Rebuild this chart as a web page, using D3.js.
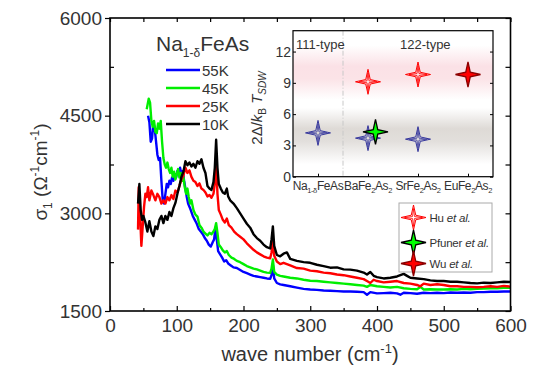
<!DOCTYPE html>
<html>
<head>
<meta charset="utf-8">
<script src="https://cdnjs.cloudflare.com/ajax/libs/d3/7.8.5/d3.min.js"></script>
<style>
  body { margin: 0; background: #fff; }
  svg { font-family: "Liberation Sans", Arial, sans-serif; }
</style>
</head>
<body>
<svg id="chart" width="540" height="369"></svg>
<script>
// optical conductivity, [wave number, sigma1]
const s55K = [[57,4500],[59,4400],[61,4100],[63,4150],[65,4400],[67,4300],[69,4100],[71,3900],[73,3820],[75,3850],[77,3500],[79,3200],[81,3150],[83,3300],[85,3450],[87,3400],[89,3500],[91,3450],[93,3550],[95,3500],[97,3600],[99,3550],[101,3650],[103,3620],[105,3700],[107,3600],[109,3650],[111,3500],[113,3380],[115,3250],[117,3150],[119,3100],[121,3050],[124,2960],[127,2900],[130,2840],[133,2760],[136,2720],[139,2680],[142,2620],[145,2580],[148,2520],[151,2490],[154,2560],[156,2600],[158,2780],[160,2600],[162,2420],[165,2370],[168,2320],[171,2260],[174,2280],[177,2230],[181,2200],[185,2170],[190,2160],[195,2130],[200,2100],[205,2080],[210,2060],[215,2040],[220,2030],[225,2020],[230,2010],[235,2000],[240,1995],[242,2050],[244,2210],[246,2000],[250,1930],[255,1910],[260,1900],[270,1880],[280,1860],[290,1840],[300,1830],[310,1825],[320,1815],[330,1810],[340,1805],[350,1800],[360,1800],[370,1795],[380,1790],[385,1750],[390,1790],[400,1770],[410,1775],[420,1780],[430,1770],[435,1750],[440,1780],[450,1775],[460,1765],[470,1780],[480,1775],[490,1780],[500,1775],[510,1785],[520,1780],[530,1785],[540,1780],[550,1790],[560,1790],[570,1795],[580,1795],[590,1800],[600,1800]];

const s45K = [[55,4600],[58,4760],[60,4700],[62,4420],[64,4330],[66,4420],[68,4250],[70,4230],[72,4380],[74,4300],[76,4420],[78,4100],[80,3850],[82,3750],[84,3700],[86,3780],[88,3680],[90,3620],[92,3700],[94,3560],[96,3640],[98,3520],[100,3600],[102,3680],[104,3550],[106,3620],[108,3500],[110,3560],[112,3400],[114,3300],[116,3380],[118,3250],[120,3150],[122,3200],[125,3050],[128,2980],[131,2950],[134,2820],[137,2780],[140,2720],[143,2690],[146,2660],[149,2700],[152,2680],[155,2720],[157,2760],[159,2850],[161,2700],[163,2520],[166,2480],[169,2430],[172,2400],[175,2420],[178,2360],[182,2320],[186,2300],[190,2270],[195,2250],[200,2220],[205,2190],[210,2170],[215,2150],[220,2140],[225,2120],[230,2100],[235,2090],[240,2085],[242,2150],[244,2290],[246,2100],[250,2060],[255,2040],[260,2030],[270,2010],[280,2000],[290,1980],[300,1965],[310,1960],[320,1950],[330,1940],[340,1930],[350,1920],[360,1910],[370,1900],[380,1890],[385,1870],[390,1900],[400,1880],[410,1870],[420,1860],[430,1870],[440,1850],[450,1840],[460,1835],[465,1870],[470,1830],[480,1835],[490,1830],[500,1830],[510,1835],[520,1830],[530,1840],[540,1835],[550,1840],[560,1845],[570,1850],[580,1850],[590,1855],[600,1855]];

const s25K = [[42,2750],[43,3400],[45,3000],[47,2500],[49,2800],[51,3100],[53,3300],[55,3250],[57,3400],[59,3200],[62,3350],[65,3280],[68,3200],[71,3300],[74,3250],[77,3150],[80,3200],[83,3150],[86,3250],[89,3200],[92,3280],[95,3220],[98,3350],[101,3320],[104,3420],[107,3520],[110,3580],[113,3700],[116,3620],[119,3660],[122,3560],[125,3500],[128,3480],[131,3420],[134,3460],[137,3380],[140,3360],[143,3320],[146,3260],[149,3280],[152,3240],[155,3300],[157,3450],[159,3800],[161,3300],[163,3050],[166,2980],[169,2900],[172,2860],[175,2920],[178,2820],[182,2780],[186,2720],[190,2680],[195,2640],[200,2600],[205,2540],[210,2490],[215,2440],[220,2400],[225,2370],[230,2340],[235,2320],[240,2310],[242,2400],[244,2560],[246,2350],[250,2260],[255,2220],[260,2240],[270,2200],[280,2160],[290,2150],[300,2120],[310,2110],[320,2090],[330,2080],[340,2060],[350,2050],[360,2030],[370,2010],[380,1990],[385,1960],[390,1930],[395,1980],[400,1960],[410,1940],[420,1950],[430,1960],[440,1930],[450,1920],[460,1900],[465,1880],[470,1920],[480,1900],[490,1910],[500,1900],[510,1880],[520,1880],[530,1870],[540,1870],[550,1865],[560,1870],[570,1880],[580,1870],[590,1885],[600,1875]];

const s10K = [[42,3150],[44,3450],[46,3050],[48,2900],[50,2960],[53,2860],[56,2720],[59,2880],[62,2720],[65,2650],[68,2800],[71,2760],[74,2900],[77,2960],[80,2850],[83,2960],[86,2900],[89,3020],[92,2960],[95,3080],[98,3160],[101,3300],[104,3420],[107,3560],[110,3640],[113,3800],[116,3740],[119,3780],[122,3720],[125,3760],[128,3700],[131,3800],[134,3760],[137,3830],[140,3700],[143,3620],[146,3420],[149,3380],[152,3360],[155,3480],[157,3700],[159,4130],[161,3700],[163,3450],[166,3380],[169,3320],[172,3300],[175,3380],[177,3260],[180,3200],[185,3150],[190,3080],[195,3000],[200,2920],[205,2840],[210,2780],[215,2680],[220,2620],[225,2580],[230,2520],[235,2480],[240,2460],[242,2600],[244,2800],[246,2500],[250,2360],[255,2340],[260,2380],[265,2400],[270,2300],[280,2270],[290,2250],[300,2240],[310,2210],[320,2190],[330,2165],[340,2170],[350,2140],[360,2135],[370,2120],[380,2090],[385,2060],[390,2100],[395,2040],[400,2020],[410,2000],[420,2010],[430,2030],[440,2070],[445,2040],[450,2010],[460,2000],[470,1990],[480,1970],[490,1960],[500,1960],[510,1950],[520,1950],[530,1940],[540,1930],[550,1925],[560,1935],[570,1930],[580,1940],[590,1950],[600,1945]];

const seriesNames = ["55K", "45K", "25K", "10K"];
const seriesColors = ["#0000ff", "#00ee00", "#ff0000", "#000000"];
const seriesData = [s55K, s45K, s25K, s10K];

const xMajor = [0, 100, 200, 300, 400, 500, 600];
const xMinor = [50, 150, 250, 350, 450, 550];
const yMajor = [1500, 3000, 4500, 6000];
const yMinor = [2250, 3750, 5250];

// inset: 2Δ/kB T_SDW, [category position, ratio]
const compounds = [["Na", "1-δ", "FeAs", ""], ["BaFe", "2", "As", "2"], ["SrFe", "2", "As", "2"], ["EuFe", "2", "As", "2"]];
const huHigh = [[2, 9.1], [3, 9.8]];
const huLow = [[1, 4.2], [2, 3.7], [3, 3.6]];
const pfuner = [[2.15, 4.3]];
const wu = [[4, 9.8]];
const insetTicks = [0, 3, 6, 9, 12];

const svg = d3.select("#chart");

const x = d3.scaleLinear().domain([0, 600]).range([110, 510.5]);
const y = d3.scaleLinear().domain([1500, 6000]).range([311, 18]);

svg.append("defs").append("clipPath").attr("id", "plotclip")
  .append("rect").attr("x", 110).attr("y", 18).attr("width", 400.5).attr("height", 293);

// curves
const line = d3.line().x(d => x(d[0])).y(d => y(d[1]));
svg.append("g").attr("clip-path", "url(#plotclip)")
  .selectAll("path")
  .data(seriesData)
  .join("path")
  .attr("d", line)
  .attr("fill", "none")
  .attr("stroke", (d, i) => seriesColors[i])
  .attr("stroke-width", 2.4)
  .attr("stroke-linejoin", "round");

// axes
const tidy = g => { g.select(".domain").remove(); g.selectAll("line").attr("stroke", "#000").attr("stroke-width", 1.2); };
svg.append("g").attr("transform", "translate(0,311)")
  .call(d3.axisBottom(x).tickValues(xMajor).tickSize(-5).tickPadding(8).tickFormat(d3.format("d")))
  .call(tidy)
  .call(g => g.selectAll("text").attr("font-size", 19).attr("fill", "#333").attr("font-family", "Liberation Sans, Arial"));
svg.append("g").attr("transform", "translate(0,311)")
  .call(d3.axisBottom(x).tickValues(xMinor).tickSize(-3).tickFormat(""))
  .call(tidy);
svg.append("g").attr("transform", "translate(0,18)")
  .call(d3.axisTop(x).tickValues(xMajor.concat(xMinor)).tickSize(-4).tickFormat(""))
  .call(tidy);
svg.append("g").attr("transform", "translate(110,0)")
  .call(d3.axisLeft(y).tickValues(yMajor).tickSize(5).tickPadding(3).tickFormat(d3.format("d")))
  .call(tidy)
  .call(g => g.selectAll("text").attr("font-size", 19).attr("fill", "#333").attr("font-family", "Liberation Sans, Arial"));
svg.append("g").attr("transform", "translate(110,0)")
  .call(d3.axisLeft(y).tickValues(yMinor).tickSize(-4).tickFormat(""))
  .call(tidy);
svg.append("g").attr("transform", "translate(510.5,0)")
  .call(d3.axisRight(y).tickValues(yMajor.concat(yMinor)).tickSize(-5).tickFormat(""))
  .call(tidy);

svg.append("rect").attr("x", 110).attr("y", 18).attr("width", 400.5).attr("height", 293)
  .attr("fill", "none").attr("stroke", "#000").attr("stroke-width", 1.6);

// axis titles
const xt = svg.append("text").attr("x", 310).attr("y", 361).attr("text-anchor", "middle")
  .attr("font-size", 20).attr("fill", "#333");
xt.append("tspan").text("wave number (cm");
xt.append("tspan").attr("dy", -8).attr("font-size", 13).text("-1");
xt.append("tspan").attr("dy", 8).text(")");

const yt = svg.append("text").attr("transform", "translate(47,172) rotate(-90)").attr("text-anchor", "middle")
  .attr("font-size", 19).attr("fill", "#333");
yt.append("tspan").text("σ");
yt.append("tspan").attr("dy", 5).attr("font-size", 12).text("1");
yt.append("tspan").attr("dy", -5).text(" (Ω");
yt.append("tspan").attr("dy", -8).attr("font-size", 12).text("-1");
yt.append("tspan").attr("dy", 8).text("cm");
yt.append("tspan").attr("dy", -8).attr("font-size", 12).text("-1");
yt.append("tspan").attr("dy", 8).text(")");

// main legend
const lt = svg.append("text").attr("x", 156).attr("y", 51).attr("font-size", 21).attr("fill", "#333");
lt.append("tspan").text("Na");
lt.append("tspan").attr("dy", 6).attr("font-size", 12).text("1-δ");
lt.append("tspan").attr("dy", -6).text("FeAs");

const leg = svg.append("g").selectAll("g").data(seriesNames).join("g")
  .attr("transform", (d, i) => `translate(166,${70 + i * 18})`);
leg.append("line").attr("x1", 0).attr("x2", 34).attr("stroke", (d, i) => seriesColors[i]).attr("stroke-width", 2.4);
leg.append("text").attr("x", 36).attr("y", 5.5).attr("font-size", 15).attr("fill", "#333").text(d => d);

// ---------- inset ----------
const ix = d3.scaleLinear().domain([0.5, 4.5]).range([293, 493]);
const iy = d3.scaleLinear().domain([0, 14]).range([176.7, 30.7]);

const grad = svg.select("defs").append("linearGradient").attr("id", "bands")
  .attr("gradientUnits", "userSpaceOnUse").attr("x1", 0).attr("x2", 0)
  .attr("y1", iy(14)).attr("y2", iy(0));
const bandStops = [[14, "#ffffff"], [12.6, "#ffffff"], [10.6, "#fbe1e6"], [9.4, "#fbe3e7"], [7.4, "#ffffff"], [6.6, "#ffffff"], [4.6, "#dedad6"], [3.4, "#e2dfdc"], [1.2, "#ffffff"], [0, "#ffffff"]];
grad.selectAll("stop").data(bandStops).join("stop")
  .attr("offset", d => (iy(d[0]) - iy(14)) / (iy(0) - iy(14)))
  .attr("stop-color", d => d[1]);

svg.append("rect").attr("x", ix(0.5)).attr("y", iy(14)).attr("width", ix(4.5) - ix(0.5)).attr("height", iy(0) - iy(14))
  .attr("fill", "url(#bands)");

svg.append("line").attr("x1", ix(1.5)).attr("x2", ix(1.5)).attr("y1", iy(14)).attr("y2", iy(0))
  .attr("stroke", "#c8c8c8").attr("stroke-width", 1).attr("stroke-dasharray", "5,2,1,2");

const itidy = g => { g.select(".domain").remove(); g.selectAll("line").attr("stroke", "#000"); };
svg.append("g").attr("transform", `translate(${ix(0.5)},0)`)
  .call(d3.axisLeft(iy).tickValues(insetTicks).tickSize(-3).tickPadding(2))
  .call(itidy)
  .call(g => g.selectAll("text").attr("font-size", 14).attr("fill", "#333").attr("font-family", "Liberation Sans, Arial"));
svg.append("g").attr("transform", `translate(${ix(4.5)},0)`)
  .call(d3.axisRight(iy).tickValues(insetTicks).tickSize(-3).tickFormat(""))
  .call(itidy);
svg.append("g").attr("transform", `translate(0,${iy(0)})`)
  .call(d3.axisBottom(ix).tickValues([1, 2, 3, 4]).tickSize(-3).tickFormat(""))
  .call(itidy);

svg.append("rect").attr("x", ix(0.5)).attr("y", iy(14)).attr("width", ix(4.5) - ix(0.5)).attr("height", iy(0) - iy(14))
  .attr("fill", "none").attr("stroke", "#000").attr("stroke-width", 1.2);

// compound labels
const cl = svg.append("g").selectAll("text").data(compounds).join("text")
  .attr("x", (d, i) => ix(i + 1)).attr("y", 190).attr("text-anchor", "middle")
  .attr("font-size", 12).attr("letter-spacing", -0.4).attr("fill", "#333");
cl.append("tspan").text(d => d[0]);
cl.append("tspan").attr("dy", 3).attr("font-size", 7.5).text(d => d[1]);
cl.append("tspan").attr("dy", -3).text(d => d[2]);
cl.append("tspan").attr("dy", 3).attr("font-size", 7.5).text(d => d[3]);

svg.append("text").attr("x", 296).attr("y", 49).attr("font-size", 13).attr("fill", "#333").text("111-type");
svg.append("text").attr("x", 400).attr("y", 49).attr("font-size", 13).attr("fill", "#333").text("122-type");

const it = svg.append("text").attr("transform", "translate(262,108) rotate(-90)").attr("text-anchor", "middle")
  .attr("font-size", 15).attr("fill", "#333");
it.append("tspan").text("2Δ/");
it.append("tspan").attr("font-style", "italic").text("k");
it.append("tspan").attr("dy", 4).attr("font-size", 10).text("B");
it.append("tspan").attr("dy", -4).attr("font-style", "italic").text(" T");
it.append("tspan").attr("dy", 4).attr("font-size", 10).attr("font-style", "italic").text("SDW");

// four-pointed star symbol
const sparkle = (R, r) => ({
  draw(ctx) {
    for (let k = 0; k < 8; k++) {
      const a = k * Math.PI / 4 - Math.PI / 2;
      const rad = k % 2 === 0 ? R : r;
      const px = rad * Math.cos(a), py = rad * Math.sin(a);
      if (k === 0) ctx.moveTo(px, py); else ctx.lineTo(px, py);
    }
    ctx.closePath();
  }
});
const outerStar = d3.symbol().type(sparkle(12.5, 3.2))();
const innerStar = d3.symbol().type(sparkle(9, 1.4))();

const openStars = (g, data, color) => {
  const s = g.selectAll(null).data(data).join("g")
    .attr("transform", d => `translate(${ix(d[0])},${iy(d[1])})`);
  s.append("path").attr("d", outerStar).attr("fill", "none").attr("stroke", color).attr("stroke-width", 1);
  s.append("path").attr("d", innerStar).attr("fill", "none").attr("stroke", color).attr("stroke-width", 0.8);
};
const filledStars = (g, data, fill, edge) => {
  g.selectAll(null).data(data).join("path")
    .attr("transform", d => `translate(${ix(d[0])},${iy(d[1])})`)
    .attr("d", outerStar).attr("fill", fill).attr("stroke", edge).attr("stroke-width", 1.3);
};
const marks = svg.append("g");
openStars(marks, huLow, "#34359c");
openStars(marks, huHigh, "#ff0000");
filledStars(marks, pfuner, "#00ff00", "#000");
filledStars(marks, wu, "#ff0000", "#8b0000");

// inset legend
svg.append("rect").attr("x", 399).attr("y", 203).attr("width", 93).attr("height", 69)
  .attr("fill", "#fff").attr("stroke", "#aaa").attr("stroke-width", 1);
const legItems = [["Hu ", "open", "#ff0000", null], ["Pfuner ", "filled", "#00ff00", "#000"], ["Wu ", "filled", "#ff0000", "#8b0000"]];
const legY = [217.5, 242.5, 263.5];
const li = svg.append("g").selectAll("g").data(legItems).join("g")
  .attr("transform", (d, i) => `translate(413.5,${legY[i]})`);
li.filter(d => d[1] === "open").call(g => {
  g.append("path").attr("d", outerStar).attr("fill", "none").attr("stroke", d => d[2]).attr("stroke-width", 1);
  g.append("path").attr("d", innerStar).attr("fill", "none").attr("stroke", d => d[2]).attr("stroke-width", 0.8);
});
li.filter(d => d[1] === "filled")
  .append("path").attr("d", outerStar).attr("fill", d => d[2]).attr("stroke", d => d[3]).attr("stroke-width", 1.3);
const ltx = li.append("text").attr("x", 16).attr("y", 4.5).attr("font-size", 11.5).attr("letter-spacing", -0.2).attr("fill", "#333");
ltx.append("tspan").text(d => d[0]);
ltx.append("tspan").attr("font-style", "italic").text("et al.");
</script>
</body>
</html>
